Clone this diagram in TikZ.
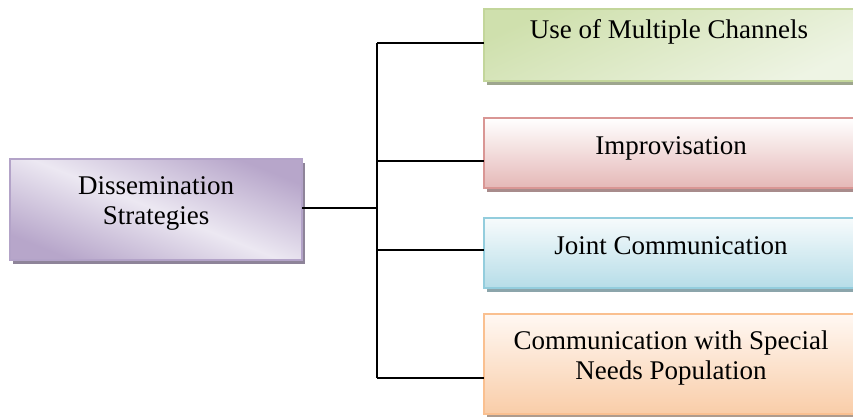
\documentclass[tikz,border=0pt]{standalone}
\usepackage{fontspec}
\setmainfont{Liberation Serif}
\usetikzlibrary{shadows}

% box fills and outlines
\definecolor{purpleEdge}{HTML}{B3A3C8}
\definecolor{purpleDark}{HTML}{B7A6CA}
\definecolor{purpleLight}{HTML}{ECE8F2}
\definecolor{purpleShadow}{HTML}{8E8499}
\definecolor{greenEdge}{HTML}{C3D69B}
\definecolor{greenDark}{HTML}{CFE0AD}
\definecolor{greenLight}{HTML}{EEF4E4}
\definecolor{greenShadow}{HTML}{9EA68E}
\definecolor{redEdge}{HTML}{D99694}
\definecolor{redTop}{HTML}{FFFFFF}
\definecolor{redBottom}{HTML}{E5B8B7}
\definecolor{redShadow}{HTML}{A88C8C}
\definecolor{blueEdge}{HTML}{93CDDD}
\definecolor{blueTop}{HTML}{F7FBFC}
\definecolor{blueBottom}{HTML}{B6DDE8}
\definecolor{blueShadow}{HTML}{8CA5AB}
\definecolor{orangeEdge}{HTML}{FAC090}
\definecolor{orangeTop}{HTML}{FFF8F3}
\definecolor{orangeBottom}{HTML}{F9CDA8}
\definecolor{orangeShadow}{HTML}{AE9C8E}

\tikzset{
  box/.style={rectangle, inner sep=0pt, outer sep=0pt, line width=2pt},
  txt/.style={inner sep=0pt, outer sep=0pt, align=center,
    font=\fontsize{27}{30}\selectfont},
  link/.style={line width=1.8pt, black}
}

\begin{document}
\begin{tikzpicture}[x=1pt, y=-1pt]
\useasboundingbox (0,0) rectangle (853,416);

% central box
\node[box, draw=purpleEdge, minimum width=292pt, minimum height=101pt,
  top color=purpleDark, bottom color=purpleDark, middle color=purpleLight,
  shading angle=-22,
  drop shadow={shadow xshift=3pt, shadow yshift=-4pt, fill=purpleShadow, opacity=1}]
  (root) at (156,209.5) {};
\node[txt] (roottxt) at (156,203.8) {Dissemination\\Strategies};

% branch boxes
\node[box, draw=greenEdge, minimum width=374pt, minimum height=72pt,
  top color=greenDark, bottom color=greenLight, shading angle=25,
  drop shadow={shadow xshift=3pt, shadow yshift=-4pt, fill=greenShadow, opacity=1}]
  (b1) at (671,45) {};
\node[txt, anchor=base] (t1) at (669,38) {Use of Multiple Channels};

\node[box, draw=redEdge, minimum width=374pt, minimum height=70pt,
  top color=redTop, bottom color=redBottom,
  drop shadow={shadow xshift=3pt, shadow yshift=-4pt, fill=redShadow, opacity=1}]
  (b2) at (671,153) {};
\node[txt, anchor=base] (t2) at (671,154) {Improvisation};

\node[box, draw=blueEdge, minimum width=374pt, minimum height=70pt,
  top color=blueTop, bottom color=blueBottom,
  drop shadow={shadow xshift=3pt, shadow yshift=-4pt, fill=blueShadow, opacity=1}]
  (b3) at (671,253) {};
\node[txt, anchor=base] (t3) at (671,254) {Joint Communication};

\node[box, draw=orangeEdge, minimum width=374pt, minimum height=100pt,
  top color=orangeTop, bottom color=orangeBottom,
  drop shadow={shadow xshift=3pt, shadow yshift=-4pt, fill=orangeShadow, opacity=1}]
  (b4) at (671,364) {};
\node[txt] (t4) at (671,358.3) {Communication with Special\\Needs Population};

% junctions on the vertical bus
\coordinate (j0) at (377,208);
\coordinate (j1) at (377,43);
\coordinate (j2) at (377,161);
\coordinate (j3) at (377,250);
\coordinate (j4) at (377,378);

% connectors
\draw[link] (root.east |- j0) -- (j0);
\draw[link] (j1) -- (j4);
\draw[link] (j1) -- (b1.west |- j1);
\draw[link] (j2) -- (b2.west |- j2);
\draw[link] (j3) -- (b3.west |- j3);
\draw[link] (j4) -- (b4.west |- j4);
\end{tikzpicture}
\end{document}
